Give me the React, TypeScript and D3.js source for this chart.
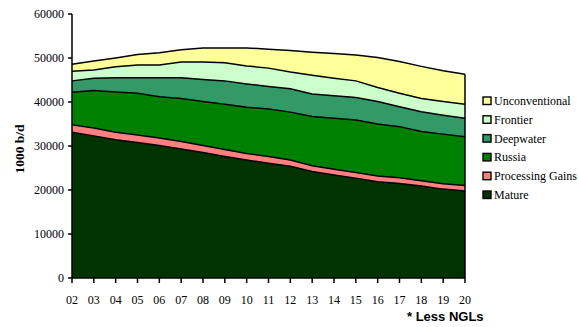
import React from "react";
import * as d3 from "d3";

const years = ["02","03","04","05","06","07","08","09","10","11","12","13","14","15","16","17","18","19","20"];
const seriesNames = ["Mature","Processing Gains","Russia","Deepwater","Frontier","Unconventional"];
const mature = [33100,32300,31400,30800,30100,29300,28500,27600,26800,26100,25400,24200,23400,22700,21900,21500,20900,20200,19800];
const processingGains = [1700,1800,1700,1700,1700,1700,1600,1600,1500,1500,1400,1300,1300,1300,1300,1300,1200,1200,1200];
const russia = [7400,8500,9200,9500,9400,9800,10000,10300,10500,10800,10900,11200,11600,11900,11800,11600,11200,11300,11100];
const deepwater = [2600,2800,3200,3500,4300,4700,5000,5300,5300,5100,5300,5100,5100,5100,5100,4500,4500,4300,4200];
const frontier = [2200,1900,2500,2900,2900,3600,4000,4100,4100,4200,3800,4300,4000,3800,3200,3100,3000,3100,3200];
const unconventional = [1600,2000,2000,2400,2800,2800,3200,3400,4100,4300,4900,5200,5600,5900,6800,7200,7300,7000,6800];
const yTicks = [0,10000,20000,30000,40000,50000,60000];
const colors = ["#003300","#ff8080","#008000","#339966","#ccffcc","#ffff99"];

export default function App() {
  const W = 579, H = 327;
  const left = 72, right = 465, top = 14, bottom = 278;
  const x = d3.scalePoint<string>().domain(years).range([left, right]);
  const y = d3.scaleLinear().domain([0, 60000]).range([bottom, top]);
  const all = [mature, processingGains, russia, deepwater, frontier, unconventional];
  const rows = years.map((yr, i) => {
    const r: any = { year: yr };
    seriesNames.forEach((n, k) => (r[n] = all[k][i]));
    return r;
  });
  const stacked = d3.stack<any>().keys(seriesNames)(rows);
  const area = d3.area<any>()
    .x((d: any) => x(d.data.year) as number)
    .y0((d: any) => y(d[0]))
    .y1((d: any) => y(d[1]));
  const line = d3.line<any>()
    .x((d: any) => x(d.data.year) as number)
    .y((d: any) => y(d[1]));
  const serif = "'Liberation Serif', 'Times New Roman', serif";
  const legendOrder = [...seriesNames].reverse();
  return (
    <svg width={W} height={H} style={{ position: "absolute", left: 0, top: 0, background: "#fff" }}>
      {stacked.map((s, k) => (
        <path key={"a" + k} d={area(s as any) || ""} fill={colors[k]} stroke="none" />
      ))}
      {stacked.map((s, k) => (
        <path key={"l" + k} d={line(s as any) || ""} fill="none" stroke="#000" strokeWidth={1.5} />
      ))}
      <line x1={right} x2={right} y1={y(d3.sum(all, (a) => a[a.length - 1]))} y2={bottom} stroke="#000" strokeWidth={1.5} />
      <line x1={left} x2={left} y1={top} y2={bottom} stroke="#000" strokeWidth={1.5} />
      <line x1={left} x2={right} y1={bottom} y2={bottom} stroke="#000" strokeWidth={1.5} />
      {yTicks.map((t) => (
        <g key={t}>
          <line x1={left - 4} x2={left} y1={y(t)} y2={y(t)} stroke="#000" strokeWidth={1.5} />
          <text x={left - 8} y={y(t) + 4} textAnchor="end" fontFamily={serif} fontSize={12} fill="#000">{t}</text>
        </g>
      ))}
      {years.map((yr) => (
        <g key={yr}>
          <line x1={x(yr)} x2={x(yr)} y1={bottom} y2={bottom + 5} stroke="#000" strokeWidth={1.5} />
          <text x={x(yr)} y={304} textAnchor="middle" fontFamily={serif} fontSize={12} fill="#000">{yr}</text>
        </g>
      ))}
      <text transform={`translate(24,149) rotate(-90)`} textAnchor="middle" fontFamily={serif} fontSize={13.5} fontWeight="bold" fill="#000">1000 b/d</text>
      <text x={407} y={321} fontFamily="'Liberation Sans', Arial, sans-serif" fontSize={13} fontWeight="bold" fill="#000">* Less NGLs</text>
      {legendOrder.map((n, i) => {
        const k = seriesNames.indexOf(n);
        const cy = 101 + i * 18.8;
        return (
          <g key={n}>
            <rect x={483} y={cy - 4} width={8} height={7.5} fill={colors[k]} stroke="#000" strokeWidth={1.4} />
            <text x={494} y={cy + 4} fontFamily={serif} fontSize={12} fill="#000">{n}</text>
          </g>
        );
      })}
    </svg>
  );
}
